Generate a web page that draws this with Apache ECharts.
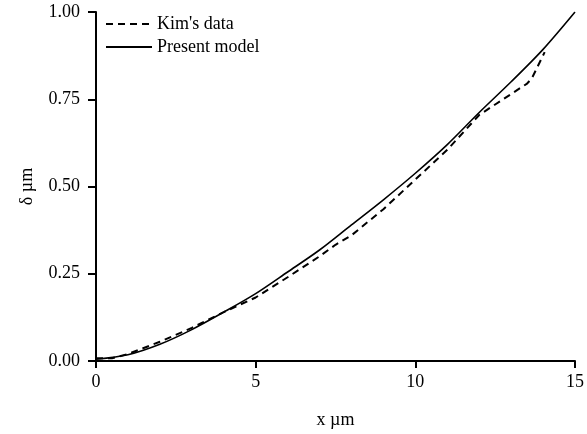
<!DOCTYPE html>
<html>
<head>
<meta charset="utf-8">
<script src="https://cdn.jsdelivr.net/npm/echarts@6/dist/echarts.min.js"></script>
<style>
  html, body { margin: 0; padding: 0; background: #fff; }
  #main { width: 587px; height: 434px; }
</style>
</head>
<body>
<div id="main"></div>
<script>
// values
var modelX = [0, 1, 2, 3, 4, 5, 6, 7, 8, 9, 10, 11, 12, 13, 14, 15];
var modelY = [0.005, 0.018, 0.048, 0.09, 0.14, 0.193, 0.255, 0.318, 0.39, 0.462, 0.538, 0.62, 0.712, 0.80, 0.893, 1.00];

var kimX = [0, 0.5, 1, 2, 3, 4, 5, 6, 7, 7.5, 8, 9, 10, 11, 12, 12.5, 13, 13.5, 13.65, 14.05];
var kimY = [0.008, 0.008, 0.02, 0.055, 0.095, 0.14, 0.182, 0.24, 0.30, 0.333, 0.36, 0.435, 0.52, 0.605, 0.705, 0.735, 0.765, 0.795, 0.81, 0.885];

var xTicks = [0, 5, 10, 15];
var yTicks = [0, 0.25, 0.5, 0.75, 1.0];

function pairs(xs, ys) {
    var out = [];
    for (var i = 0; i < xs.length; i++) out.push([xs[i], ys[i]]);
    return out;
}

var font = 'Liberation Serif';
var myChart = echarts.init(document.getElementById('main'));
var option = {
    animation: false,
    textStyle: { fontFamily: font, color: '#000' },
    grid: { left: 96, right: 11, top: 12, bottom: 66, containLabel: false },
    legend: {
        orient: 'vertical',
        left: 100,
        top: 10,
        itemWidth: 46,
        itemHeight: 18,
        itemGap: 5,
        itemStyle: { opacity: 0 },
        textStyle: { fontFamily: font, fontSize: 18, color: '#000' },
        data: ["Kim's data", 'Present model']
    },
    xAxis: {
        type: 'value',
        min: 0, max: 15, interval: 5,
        name: 'x µm',
        nameLocation: 'middle',
        nameGap: 50,
        nameTextStyle: { fontFamily: font, fontSize: 18, color: '#000' },
        axisLine: { lineStyle: { color: '#000', width: 2 } },
        axisTick: { length: 7, lineStyle: { color: '#000', width: 2 } },
        axisLabel: { fontFamily: font, fontSize: 18, color: '#000', margin: 12 },
        splitLine: { show: false }
    },
    yAxis: {
        type: 'value',
        min: 0, max: 1, interval: 0.25,
        name: 'δ µm',
        nameLocation: 'middle',
        nameGap: 60,
        nameRotate: 90,
        nameTextStyle: { fontFamily: font, fontSize: 18, color: '#000' },
        axisLine: { show: true, lineStyle: { color: '#000', width: 2 } },
        axisTick: { show: true, length: 8, lineStyle: { color: '#000', width: 2 } },
        axisLabel: {
            fontFamily: font, fontSize: 18, color: '#000', margin: 16,
            formatter: function (v) { return v.toFixed(2); }
        },
        splitLine: { show: false }
    },
    series: [
        {
            name: "Kim's data",
            type: 'line',
            symbol: 'none',
            data: pairs(kimX, kimY),
            lineStyle: { color: '#000', width: 2, type: [7, 5] },
            itemStyle: { color: '#000' }
        },
        {
            name: 'Present model',
            type: 'line',
            symbol: 'none',
            smooth: 0.3,
            data: pairs(modelX, modelY),
            lineStyle: { color: '#000', width: 1.6 },
            itemStyle: { color: '#000' }
        }
    ]
};
myChart.setOption(option);
</script>
</body>
</html>
